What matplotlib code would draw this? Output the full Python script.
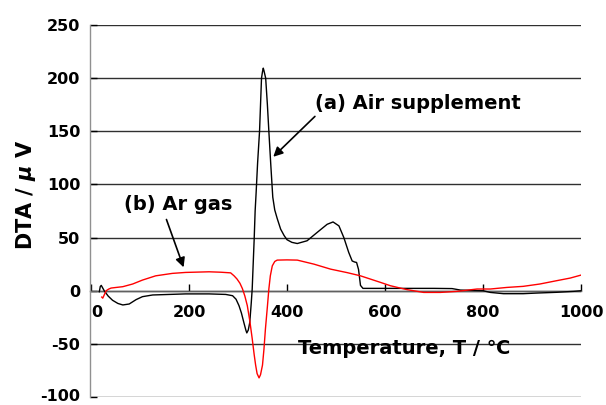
import matplotlib
matplotlib.use("Agg")
import matplotlib.pyplot as plt
import matplotlib.transforms as mtransforms

plt.rcParams["axes.unicode_minus"] = False
plt.rcParams["mathtext.fontset"] = "custom"
plt.rcParams["mathtext.it"] = "DejaVu Sans:italic:bold"
plt.rcParams["mathtext.rm"] = "DejaVu Sans:bold"

# ---- data ----
temp_air = [17, 19, 21, 27, 35, 44, 55, 65, 78, 92, 105, 126, 160, 193, 241, 275,
            289, 296, 302, 307, 312, 316, 318, 321, 324, 327, 329, 331, 333, 335,
            337, 340, 344, 348, 350, 351.6, 353, 356.5, 360, 363, 367, 371, 375,
            380, 387, 394, 400, 410, 421, 441, 462, 482, 494, 506, 516, 526, 533,
            538, 542, 546, 550, 555, 600, 650, 700, 737, 754, 800, 815, 842, 882,
            910, 950, 985, 1000]
dta_air = [-1, 4, 5, 0, -5, -9, -12, -13.4, -12.5, -8.4, -5.6, -4, -3.5, -3, -3, -3.5,
           -4.7, -8, -14, -21, -30, -37, -39.7, -37, -30, -12, 1.6, 25, 48, 75,
           92, 120, 150, 200, 206, 209.4, 207, 200, 175, 150, 118, 88, 76,
           68, 58, 52, 48, 45.5, 44.4, 47, 55, 62.5, 64.7, 61, 50, 36, 28,
           27, 26.6, 20, 5, 2.2, 2.2, 2.2, 2.2, 2, 0.6, 0, -1.6, -2.8, -2.8,
           -2.2, -1.5, -0.6, 0]

temp_ar = [22, 24, 27, 31, 36, 41, 50, 65, 85, 105, 132, 166, 193, 241, 265, 285,
           292, 298, 304, 309, 314, 319, 324, 329, 333, 336, 339, 343, 346, 350,
           353, 356, 360, 363, 366, 370, 375, 380, 400, 421, 455, 489, 523, 550,
           591, 611, 631, 645, 679, 713, 747, 788, 815, 849, 882, 916, 950, 978, 1000]
dta_ar = [-6, -7, -4, 0, 1.5, 2.5, 3, 3.8, 6.3, 10, 14, 16.3, 17.2, 17.8, 17.4, 16.8,
          14, 11, 7, 2, -5, -14, -28, -45, -60, -70, -78, -82, -79, -70,
          -55, -36, -15, 1.6, 14, 23.4, 27.5, 28.8, 29, 28.8, 25, 20.3, 17, 14,
          7.8, 4.7, 2.5, 1, -1.6, -1.6, -0.6, 1.6, 1.6, 3.1, 4.1, 6.3, 9.4, 11.9, 14.7]

x_ticks = [0, 200, 400, 600, 800, 1000]
y_ticks = [-100, -50, 0, 50, 100, 150, 200, 250]

label_a = "(a) Air supplement"
label_b = "(b) Ar gas"
x_label = "Temperature, T / \u2103"
y_label = r"DTA / $\mathit{\mu}$ V"

# ---- figure ----
W, H = 606, 405
fig = plt.figure(figsize=(W / 100, H / 100), dpi=100)
ax = fig.add_axes([90 / W, 8 / H, 491 / W, 372 / H])

FONT = ["DejaVu Sans", "Noto Sans CJK JP"]

ax.set_xlim(-2, 1000)
ax.set_ylim(-100, 250)
ax.set_yticks(y_ticks)
ax.set_xticks(x_ticks)

for y in y_ticks:
    ax.axhline(y, color="#303030", lw=1.0, zorder=1)

ax.plot(temp_air, dta_air, color="black", lw=1.0, zorder=3)
ax.plot(temp_ar, dta_ar, color="#ff0000", lw=1.0, zorder=3)

for s in ["top", "right"]:
    ax.spines[s].set_visible(False)
ax.spines["left"].set_color("#909090")
ax.spines["left"].set_linewidth(1.0)
ax.spines["bottom"].set_position(("data", 0))
ax.spines["bottom"].set_color("#606060")
ax.spines["bottom"].set_linewidth(1.0)
ax.spines["bottom"].set_zorder(2)

ax.tick_params(axis="x", direction="in", length=5, width=1, color="black",
               pad=10, labelsize=11.5)
ax.tick_params(axis="y", direction="in", length=5, width=1, color="black",
               pad=7, labelsize=11.5)
for lab in ax.get_xticklabels() + ax.get_yticklabels():
    lab.set_fontweight("bold")
    lab.set_family(FONT)

# shift the "0" x label a bit to the right, as in the reference
fig.canvas.draw()
first = ax.get_xticklabels()[0]
first.set_transform(first.get_transform() +
                    mtransforms.ScaledTranslation(6 / 100, 0, fig.dpi_scale_trans))
low = ax.get_yticklabels()[0]
low.set_transform(low.get_transform() +
                  mtransforms.ScaledTranslation(0, 2 / 100, fig.dpi_scale_trans))

# axis labels placed as in the reference
fig.text(404 / W, 1 - 348 / H, x_label, ha="center", va="center",
         fontsize=14, fontweight="bold", family=FONT)
fig.text(26 / W, 1 - 195 / H, y_label, ha="center", va="center", rotation=90,
         fontsize=15, fontweight="bold", family=FONT)

# annotation texts
ax.text(458, 176, label_a, fontsize=14, fontweight="bold", family=FONT,
        ha="left", va="center")
ax.text(67, 81, label_b, fontsize=14, fontweight="bold", family=FONT,
        ha="left", va="center")

# arrows
arrow = dict(arrowstyle="-|>", color="black", lw=1.2,
             mutation_scale=14, shrinkA=0, shrinkB=0)
ax.annotate("", xy=(372, 126), xytext=(457, 164), arrowprops=arrow)
ax.annotate("", xy=(189, 22), xytext=(154, 67), arrowprops=arrow)

fig.savefig("out.png", dpi=100)
